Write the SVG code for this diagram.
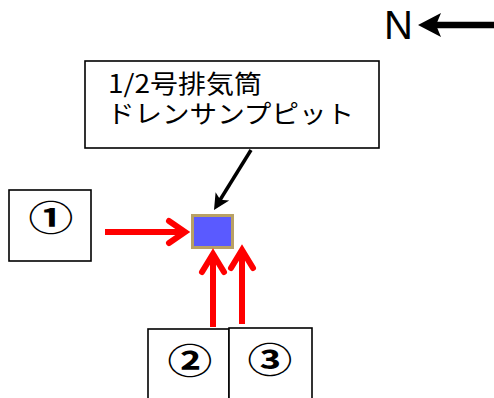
<svg xmlns="http://www.w3.org/2000/svg" width="494" height="398" viewBox="0 0 494 398">
<style>
.box{fill:#fff;stroke:#000;stroke-width:1.6}
.num{font-family:"Noto Sans CJK JP","Noto Sans",sans-serif;font-size:35px;font-weight:bold;text-anchor:middle}
.lbl{font-family:"Noto Sans CJK JP",sans-serif;font-size:25px;fill:#000}
.red{stroke:#ff0000;stroke-width:6;fill:none;stroke-linecap:butt}
.redhead{stroke:#ff0000;stroke-width:6;fill:none;stroke-linecap:round;stroke-linejoin:miter}
</style>
<rect width="494" height="398" fill="#fff"/>
<g id="north">
<text x="384" y="39" font-family="Liberation Sans,Arial,sans-serif" font-size="40">N</text>
<line x1="494" y1="25" x2="436" y2="25" stroke="#000" stroke-width="6.5"/>
<path d="M418,25 L441,13 L436,25 L441,37 z" fill="#000"/>
</g>
<g id="label">
<rect class="box" x="85" y="61" width="294" height="87"/>
<text class="lbl"><tspan x="108" y="93" textLength="154" lengthAdjust="spacingAndGlyphs">1/2号排気筒</tspan><tspan x="107" y="123" textLength="247" lengthAdjust="spacingAndGlyphs">ドレンサンプピット</tspan></text>
</g>
<g id="pit">
<rect x="192.5" y="215.5" width="40" height="32" fill="#5a5aff" stroke="#b9a165" stroke-width="3"/>
</g>
<g id="n1">
<rect class="box" x="9" y="190" width="82" height="71"/>
<text class="num" transform="translate(51,231) scale(1.28,1)">①</text>
</g>
<g id="n2">
<rect class="box" x="148" y="329" width="81" height="75"/>
<text class="num" transform="translate(190,374) scale(1.28,1)">②</text>
</g>
<g id="n3">
<rect class="box" x="229" y="328" width="83" height="76"/>
<text class="num" transform="translate(270,373) scale(1.28,1)">③</text>
</g>
<g id="connectors">
<line x1="251" y1="150" x2="220" y2="200" stroke="#000" stroke-width="3.5"/>
<path d="M214,210 L215.6,192.2 L220.3,199.8 L229.2,200.6 z" fill="#000"/>
<line class="red" x1="105" y1="232" x2="183" y2="232"/>
<polyline class="redhead" points="169,221 185,232 169,243"/>
<line class="red" x1="213" y1="327" x2="213" y2="256"/>
<polyline class="redhead" points="202,272 213,254 224,272"/>
<line class="red" x1="242" y1="324" x2="242" y2="252"/>
<polyline class="redhead" points="231,268 242,250 253,268"/>
</g>
</svg>
